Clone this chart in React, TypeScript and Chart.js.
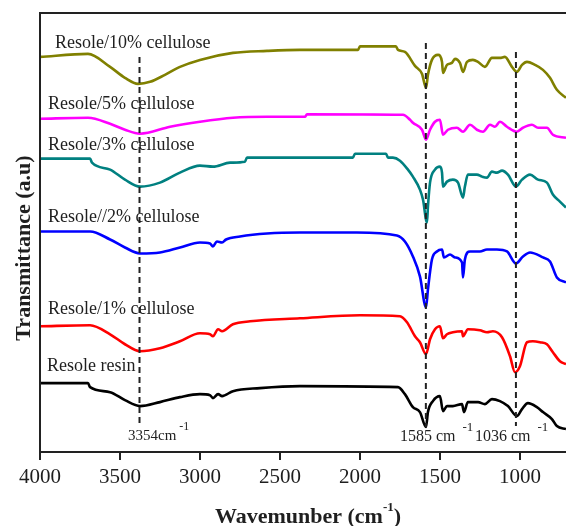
import React, { useEffect, useRef } from "react";
import { Chart, registerables } from "chart.js";

Chart.register(...registerables);

// x: wavenumber (cm-1), y: transmittance (arbitrary units, stacked offsets)
const xTicks = [4000, 3500, 3000, 2500, 2000, 1500, 1000];

const cel10Wn = [4000, 3700, 3562, 3469, 3387, 3312, 3219, 3125, 3000, 2794, 2581, 2375, 2012, 2000, 1775, 1762, 1719, 1656, 1612, 1587, 1575, 1550, 1512, 1487, 1481, 1456, 1425, 1406, 1375, 1356, 1331, 1294, 1262, 1219, 1175, 1125, 1094, 1050, 1019, 987, 956, 906, 856, 812, 769, 712];
const cel10T = [396, 399, 386, 375, 369, 371, 378, 386, 393, 400, 402, 403, 403, 406.5, 406.5, 403, 401, 387, 379, 365, 378, 393, 398, 391, 380, 388, 390, 394, 390, 381, 391, 393, 391, 386, 395, 395, 396, 386, 381, 388, 391, 388, 383, 375, 363, 355];

const cel5Wn = [4000, 3700, 3562, 3469, 3375, 3187, 3000, 2794, 2581, 2344, 2331, 1731, 1687, 1669, 1612, 1587, 1562, 1531, 1500, 1481, 1450, 1394, 1356, 1312, 1269, 1231, 1187, 1156, 1125, 1081, 1019, 981, 925, 887, 831, 794, 712];
const cel5T = [334, 335, 329, 323, 319, 326, 331, 335, 336, 336, 338.5, 338, 333, 330, 323, 313, 323, 331, 333, 318, 323, 325, 321, 328, 323, 321, 328, 326, 331, 326, 321, 325, 328, 325, 325, 318, 315];

const cel3Wn = [4000, 3687, 3675, 3562, 3469, 3375, 3250, 3125, 3000, 2919, 2812, 2719, 2706, 2044, 2031, 1837, 1825, 1794, 1750, 1700, 1669, 1625, 1606, 1581, 1575, 1562, 1531, 1500, 1487, 1481, 1456, 1419, 1387, 1356, 1344, 1325, 1269, 1237, 1206, 1175, 1144, 1112, 1075, 1025, 987, 937, 887, 831, 794, 750, 712];
const cel3T = [294, 294, 290, 283, 273, 266, 270, 280, 287, 286, 290, 291, 295, 295, 299, 299, 295, 295, 292, 283, 276, 263, 253, 230, 246, 270, 283, 286, 280, 266, 271, 273, 270, 255, 266, 278, 278, 276, 275, 281, 280, 282, 278, 266, 273, 278, 273, 270, 258, 251, 245];

const cel2Wn = [4000, 3687, 3562, 3469, 3375, 3250, 3125, 3000, 2937, 2919, 2894, 2862, 2837, 2750, 2581, 2375, 2019, 1769, 1719, 1669, 1625, 1587, 1575, 1550, 1519, 1487, 1475, 1437, 1406, 1362, 1356, 1344, 1312, 1250, 1206, 1144, 1081, 1025, 981, 937, 856, 812, 769, 712];
const cel2T = [221, 221, 213, 205, 199, 200, 205, 210, 209, 206, 211, 210, 213, 216, 219, 220, 220, 217, 211, 196, 176, 145, 163, 193, 201, 203, 195, 198, 195, 190, 175, 193, 201, 201, 203, 203, 201, 189, 196, 200, 195, 191, 175, 170];

const cel1Wn = [4000, 3687, 3562, 3469, 3375, 3250, 3125, 3000, 2937, 2919, 2887, 2862, 2794, 2687, 2375, 2000, 1750, 1706, 1656, 1625, 1587, 1562, 1531, 1500, 1481, 1456, 1419, 1362, 1356, 1325, 1250, 1206, 1169, 1112, 1062, 1031, 1000, 956, 919, 875, 831, 794, 750, 712];
const cel1T = [126, 127, 118, 108, 101, 104, 111, 119, 118, 116, 123, 121, 128, 131, 134, 137, 136, 130, 116, 110, 98, 113, 123, 126, 114, 118, 120, 121, 116, 123, 122, 120, 121, 115, 96, 80, 86, 110, 111, 110, 108, 100, 91, 88];

const resinWn = [4000, 3700, 3687, 3562, 3469, 3375, 3250, 3125, 3000, 2937, 2919, 2887, 2862, 2794, 2625, 2375, 1762, 1719, 1669, 1625, 1587, 1575, 1544, 1500, 1481, 1456, 1419, 1362, 1350, 1325, 1262, 1219, 1175, 1125, 1075, 1019, 987, 950, 894, 856, 800, 769, 712];
const resinT = [69, 69, 65, 60, 52, 46, 50, 55, 58, 57, 54, 58, 56, 61, 64, 66, 65, 58, 45, 40, 25, 40, 51, 56, 41, 46, 46, 48, 40, 50, 50, 48, 53, 51, 46, 36, 43, 49, 45, 40, 33, 26, 23];

const seriesNames = ["Resole/10% cellulose", "Resole/5% cellulose", "Resole/3% cellulose", "Resole//2% cellulose", "Resole/1% cellulose", "Resole resin"];
const seriesWn = [cel10Wn, cel5Wn, cel3Wn, cel2Wn, cel1Wn, resinWn];
const seriesT = [cel10T, cel5T, cel3T, cel2T, cel1T, resinT];
const seriesColors = ["#808000", "#ff00ff", "#008080", "#0000ff", "#ff0000", "#000000"];

// label anchors (data units)
const labelWn = [3906, 3950, 3950, 3950, 3950, 3956];
const labelT = [410, 349, 307, 235, 143, 86];

// marker bands
const markerWn = [3378, 1588, 1025];
const markerTop = [396, 410, 401];
const markerBottom = [27, 25, 26];
const markerText = ["3354cm", "1585 cm", "1036 cm"];
const markerTextWn = [3450, 1750, 1281];
const markerTextT = [16, 15, 15];

const SERIF = "'Liberation Serif', 'Times New Roman', serif";
const TEXT = "#1f1f1f";

const annotate = {
  id: "annotate",
  afterDraw(chart: any) {
    const { ctx, chartArea, scales } = chart;
    const x = scales.x;
    const y = scales.y;
    ctx.save();
    // frame: left and top
    ctx.strokeStyle = "#222";
    ctx.lineWidth = 2;
    ctx.beginPath();
    ctx.moveTo(chartArea.left, chartArea.bottom);
    ctx.lineTo(chartArea.left, chartArea.top);
    ctx.lineTo(chartArea.right, chartArea.top);
    ctx.stroke();

    ctx.fillStyle = TEXT;
    ctx.textBaseline = "middle";
    ctx.textAlign = "left";
    // series labels
    ctx.font = `18px ${SERIF}`;
    for (let i = 0; i < seriesNames.length; i++) {
      ctx.fillText(seriesNames[i], x.getPixelForValue(labelWn[i]), y.getPixelForValue(labelT[i]));
    }
    // marker labels with superscript
    for (let i = 0; i < markerText.length; i++) {
      const size = i === 0 ? 15 : 16;
      ctx.font = `${size}px ${SERIF}`;
      const px = x.getPixelForValue(markerTextWn[i]);
      const py = y.getPixelForValue(markerTextT[i]);
      ctx.fillText(markerText[i], px, py);
      const w = ctx.measureText(markerText[i]).width;
      ctx.font = `${size - 3}px ${SERIF}`;
      ctx.fillText("-1", px + w + (i === 0 ? 3 : 7), py - 9);
    }

    // x title
    const canvasH = chart.height;
    const cx = (chartArea.left + chartArea.right) / 2 + 5;
    const ty = canvasH - 9;
    ctx.font = `bold 22px ${SERIF}`;
    const partA = "Wavemunber (cm";
    const partB = ")";
    const wA = ctx.measureText(partA).width;
    ctx.font = `bold 13px ${SERIF}`;
    const wS = ctx.measureText("-1").width;
    ctx.font = `bold 22px ${SERIF}`;
    const wB = ctx.measureText(partB).width;
    const total = wA + wS + wB;
    const sx = cx - total / 2;
    ctx.fillText(partA, sx, ty);
    ctx.font = `bold 13px ${SERIF}`;
    ctx.fillText("-1", sx + wA, ty - 9);
    ctx.font = `bold 22px ${SERIF}`;
    ctx.fillText(partB, sx + wA + wS, ty);

    // y title
    ctx.translate(24, 248);
    ctx.rotate(-Math.PI / 2);
    ctx.textAlign = "center";
    ctx.font = `bold 22px ${SERIF}`;
    ctx.fillText("Transmittance (a.u)", 0, 0);
    ctx.restore();
  },
};

export default function App() {
  const ref = useRef<HTMLCanvasElement | null>(null);
  useEffect(() => {
    document.body.style.margin = "0";
    if (!ref.current) return;
    const markerSets = markerWn.map((wn, i) => ({
      label: `marker-${wn}`,
      data: [
        { x: wn, y: markerTop[i] },
        { x: wn, y: markerBottom[i] },
      ],
      borderColor: "#222",
      borderWidth: 2,
      borderDash: [6, 4],
      pointRadius: 0,
      fill: false,
    }));
    const lineSets = seriesNames.map((name, i) => ({
      label: name,
      data: seriesWn[i].map((wn, j) => ({ x: wn, y: seriesT[i][j] })),
      borderColor: seriesColors[i],
      borderWidth: 2.6,
      pointRadius: 0,
      fill: false,
      cubicInterpolationMode: "monotone" as const,
    }));
    const chart = new Chart(ref.current, {
      type: "line",
      data: { datasets: [...markerSets, ...lineSets] as any },
      options: {
        animation: false,
        responsive: true,
        maintainAspectRatio: false,
        layout: { padding: { left: 40, top: 13, right: 0, bottom: 30.8 } },
        plugins: { legend: { display: false }, tooltip: { enabled: false } },
        scales: {
          x: {
            type: "linear",
            reverse: true,
            min: 712,
            max: 4000,
            afterBuildTicks: (s: any) => {
              s.ticks = xTicks.map((v) => ({ value: v }));
            },
            ticks: {
              color: TEXT,
              font: { family: SERIF, size: 21 },
              padding: 5,
              maxRotation: 0,
              autoSkip: false,
              callback: (v: any) => String(v),
            },
            grid: {
              display: true,
              drawOnChartArea: false,
              drawTicks: true,
              tickLength: 8,
              color: "#222",
              lineWidth: 2,
            },
            border: { display: true, color: "#222", width: 2 },
          },
          y: {
            type: "linear",
            display: false,
            min: 0,
            max: 440,
          },
        },
      },
      plugins: [annotate],
    });
    return () => chart.destroy();
  }, []);
  return (
    <div style={{ width: 566, height: 526, position: "relative" }}>
      <canvas ref={ref} />
    </div>
  );
}
